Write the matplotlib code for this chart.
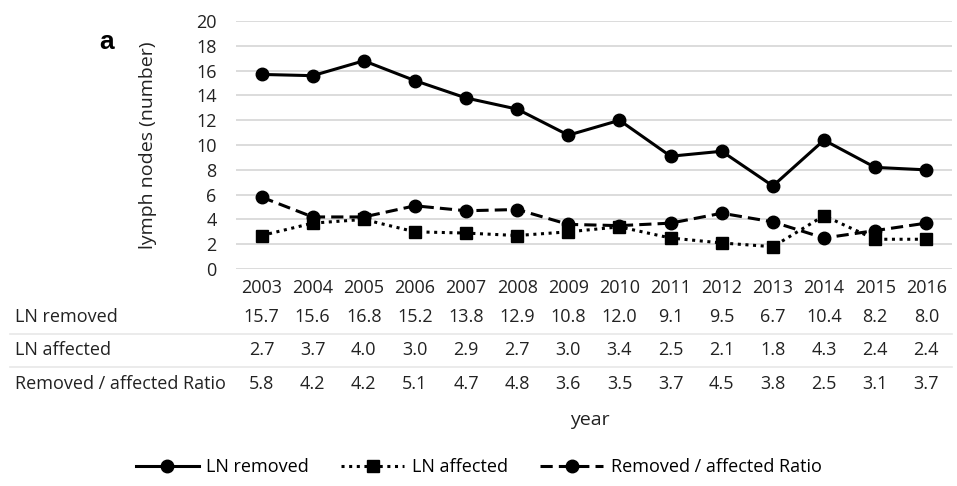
import numpy as np
import matplotlib.pyplot as plt
from matplotlib import transforms
from matplotlib.lines import Line2D

plt.rcParams['font.family'] = ['Open Sans', 'DejaVu Sans']

years = [2003, 2004, 2005, 2006, 2007, 2008, 2009, 2010, 2011, 2012, 2013, 2014, 2015, 2016]
ln_removed = [15.7, 15.6, 16.8, 15.2, 13.8, 12.9, 10.8, 12.0, 9.1, 9.5, 6.7, 10.4, 8.2, 8.0]
ln_affected = [2.7, 3.7, 4.0, 3.0, 2.9, 2.7, 3.0, 3.4, 2.5, 2.1, 1.8, 4.3, 2.4, 2.4]
ratio = [5.8, 4.2, 4.2, 5.1, 4.7, 4.8, 3.6, 3.5, 3.7, 4.5, 3.8, 2.5, 3.1, 3.7]
row_names = ["LN removed", "LN affected", "Removed / affected Ratio"]

fig = plt.figure(figsize=(9.57, 4.86), dpi=100)
ax = fig.add_axes([0.2466, 0.4465, 0.748, 0.510])

x = np.arange(len(years))
ax.plot(x, ln_removed, color='black', lw=2.2, ls='-', marker='o', ms=9, zorder=3)
ax.plot(x, ln_affected, color='black', lw=2.2, ls=(0, (1, 1.5)), marker='s', ms=8, zorder=3)
ax.plot(x, ratio, color='black', lw=2.2, ls=(0, (4, 2)), marker='o', ms=9, zorder=3)

ax.set_xlim(-0.5, len(years) - 0.5)
ax.set_ylim(0, 20)
ax.set_yticks(range(0, 21, 2))
ax.set_xticks(x)
ax.set_xticklabels([str(y) for y in years])
ax.tick_params(length=0, labelsize=13, colors='#222222')
ax.tick_params(axis='y', pad=14)
ax.tick_params(axis='x', pad=7)
ax.grid(axis='y', color='#d9d9d9', lw=1.3)
ax.set_axisbelow(True)
for s in ax.spines.values():
    s.set_visible(False)
ax.set_ylabel("lymph nodes (number)", fontsize=14, labelpad=28, color='#222222')

# data table below the axis
tr = transforms.blended_transform_factory(ax.transData, fig.transFigure)
row_y = [1 - 317 / 486, 1 - 350 / 486, 1 - 384 / 486]
for name, vals, yy in zip(row_names, [ln_removed, ln_affected, ratio], row_y):
    fig.text(15 / 957, yy, name, fontsize=13, ha='left', va='center', color='#222222')
    for i, v in enumerate(vals):
        fig.text(i, yy, f"{v:.1f}", transform=tr, fontsize=13, ha='center', va='center', color='#222222')
for ly in [1 - 334 / 486, 1 - 367 / 486]:
    fig.add_artist(Line2D([10 / 957, 952 / 957], [ly, ly], color='#e8e8e8', lw=1.2))

fig.text(590 / 957, 1 - 420 / 486, "year", fontsize=14, ha='center', va='center', color='#222222')
fig.text(107 / 957, 1 - 42 / 486, "a", fontsize=19, fontweight='bold', ha='center', va='center',
         family=['Liberation Sans', 'DejaVu Sans'])

handles = [
    Line2D([], [], color='black', lw=2.2, ls='-', marker='o', ms=9),
    Line2D([], [], color='black', lw=2.2, ls=(0, (1, 1.5)), marker='s', ms=8),
    Line2D([], [], color='black', lw=2.2, ls=(0, (4, 2)), marker='o', ms=9),
]
fig.legend(handles, row_names, loc='center', bbox_to_anchor=(0.5, 1 - 467 / 486), ncol=3,
           frameon=False, fontsize=13, handlelength=3.5, columnspacing=1.8, handletextpad=0.4)

plt.savefig("out.png", dpi=100)
